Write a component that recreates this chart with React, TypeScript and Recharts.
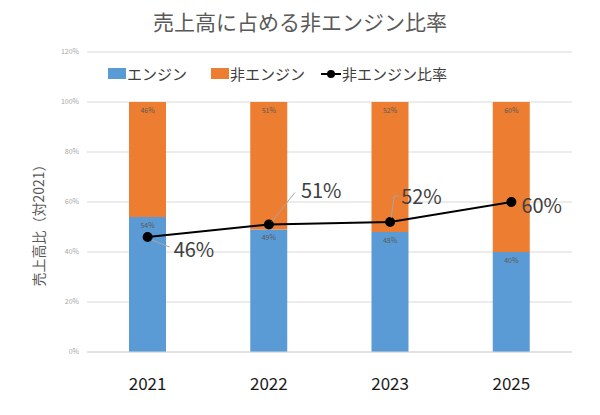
import React from 'react';
import {
  ComposedChart,
  Bar,
  Line,
  XAxis,
  YAxis,
  CartesianGrid,
  LabelList,
} from 'recharts';

const YEARS = ['2021', '2022', '2023', '2025'];
const ENGINE = [0.54, 0.49, 0.48, 0.4];
const NON_ENGINE = [0.46, 0.51, 0.52, 0.6];
const NON_ENGINE_RATIO = [0.46, 0.51, 0.52, 0.6];
const Y_TICKS = [0, 0.2, 0.4, 0.6, 0.8, 1.0, 1.2];

const data = YEARS.map((year, i) => ({
  year,
  engine: ENGINE[i],
  nonEngine: NON_ENGINE[i],
  ratio: NON_ENGINE_RATIO[i],
}));

const BLUE = '#5b9bd5';
const ORANGE = '#ed7d31';
const FONT = '"Noto Sans CJK JP", "Noto Sans", sans-serif';

const pct = (v: number) => `${Math.round(v * 100)}%`;

// where each big ratio label sits relative to its point, plus leader line bends
const RATIO_LABELS = [
  { dx: 26, dy: 11, leader: [[4, 3], [22, 10]] },
  { dx: 32, dy: -35, leader: [[3, -3], [26, -32]] },
  { dx: 11, dy: -27, leader: [[1, -4], [4, -26], [9, -26]] },
  { dx: 10, dy: 2, leader: null as number[][] | null },
];

const RatioLabel = (props: any) => {
  const { x, y, value, index } = props;
  const p = RATIO_LABELS[index];
  if (!p) return null;
  return (
    <g>
      {p.leader && (
        <polyline
          points={p.leader.map(([a, b]) => `${x + a},${y + b}`).join(' ')}
          fill="none"
          stroke="#a6a6a6"
          strokeWidth={1}
        />
      )}
      <text
        x={x + p.dx}
        y={y + p.dy}
        dominantBaseline="central"
        textAnchor="start"
        fontSize={20}
        fontFamily={FONT}
        fill="#404040"
      >
        {pct(value)}
      </text>
    </g>
  );
};

const LegendBox = () => (
  <div
    style={{
      position: 'absolute',
      left: 108,
      top: 63,
      display: 'flex',
      alignItems: 'center',
      fontFamily: FONT,
      fontSize: 15,
      color: '#404040',
      whiteSpace: 'nowrap',
    }}
  >
    <span style={{ width: 18, height: 11, background: BLUE, display: 'inline-block' }} />
    <span style={{ marginLeft: 1, marginRight: 24 }}>エンジン</span>
    <span style={{ width: 18, height: 11, background: ORANGE, display: 'inline-block' }} />
    <span style={{ marginLeft: 1, marginRight: 16 }}>非エンジン</span>
    <svg width={20} height={12}>
      <line x1={0} y1={6} x2={20} y2={6} stroke="#000" strokeWidth={2} />
      <circle cx={10} cy={6} r={4} fill="#000" />
    </svg>
    <span style={{ marginLeft: 1 }}>非エンジン比率</span>
  </div>
);

export default function App() {
  return (
    <div style={{ position: 'absolute', left: 0, top: 0, width: 600, height: 415, background: '#fff' }}>
      <div
        style={{
          position: 'absolute',
          top: 6,
          left: 0,
          width: 600,
          textAlign: 'center',
          fontFamily: FONT,
          fontSize: 21,
          color: '#595959',
        }}
      >
        売上高に占める非エンジン比率
      </div>
      <div
        style={{
          position: 'absolute',
          left: 38,
          top: 222,
          transform: 'translate(-50%, -50%) rotate(-90deg)',
          fontFamily: FONT,
          fontSize: 14,
          color: '#595959',
          whiteSpace: 'nowrap',
        }}
      >
        売上高比（対2021）
      </div>
      <ComposedChart
        width={600}
        height={415}
        data={data}
        margin={{ top: 52, right: 28, bottom: 23, left: 57 }}
        barCategoryGap="34%"
      >
        <CartesianGrid vertical={false} stroke="#d9d9d9" />
        <XAxis
          dataKey="year"
          axisLine={{ stroke: '#d9d9d9' }}
          tickLine={false}
          height={40}
          tick={{ fontSize: 17, fill: '#1a1a1a', fontFamily: FONT, dy: 18 }}
        />
        <YAxis
          width={30}
          domain={[0, 1.2]}
          ticks={Y_TICKS}
          tickFormatter={pct}
          axisLine={false}
          tickLine={false}
          tick={{ fontSize: 7, fill: '#a6a6a6', fontFamily: FONT }}
        />
        <Bar dataKey="engine" stackId="a" fill={BLUE} barSize={37} isAnimationActive={false}>
          <LabelList
            dataKey="engine"
            position="insideTop"
            offset={6}
            formatter={(v: any) => pct(v)}
            style={{ fontSize: 7, fill: '#595959', fontFamily: FONT }}
          />
        </Bar>
        <Bar dataKey="nonEngine" stackId="a" fill={ORANGE} barSize={37} isAnimationActive={false}>
          <LabelList
            dataKey="nonEngine"
            position="insideTop"
            offset={6}
            formatter={(v: any) => pct(v)}
            style={{ fontSize: 7, fill: '#595959', fontFamily: FONT }}
          />
        </Bar>
        <Line
          dataKey="ratio"
          stroke="#000"
          strokeWidth={2}
          dot={{ r: 4, fill: '#000', stroke: '#000' }}
          isAnimationActive={false}
        >
          <LabelList dataKey="ratio" content={RatioLabel} />
        </Line>
      </ComposedChart>
      <LegendBox />
    </div>
  );
}
